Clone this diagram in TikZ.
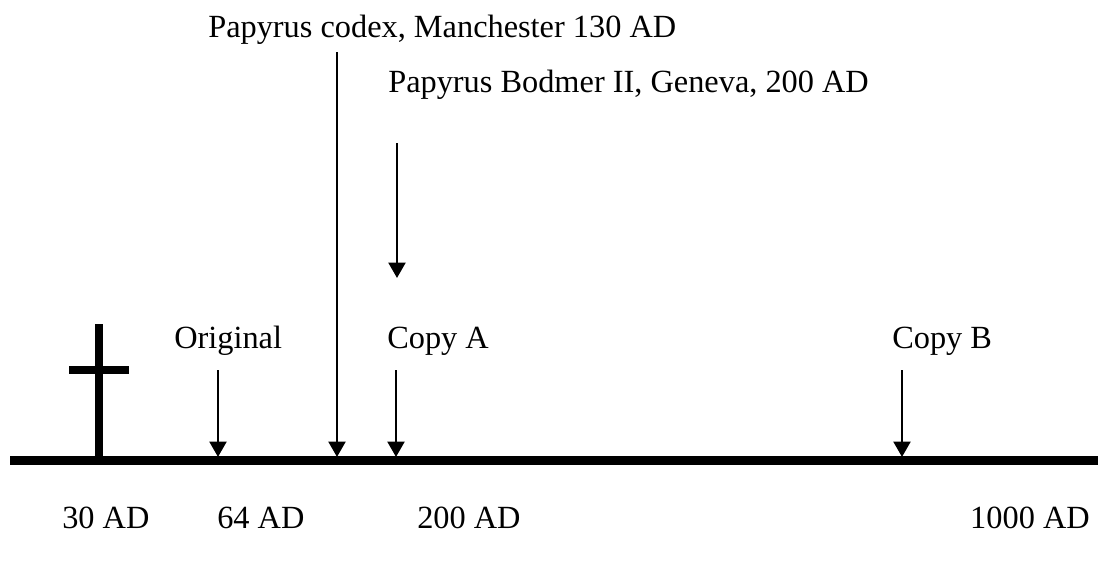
\documentclass[tikz,border=0pt]{standalone}
\usepackage{fontspec}
\setmainfont{Liberation Serif}
\usepackage{tikz}
\usetikzlibrary{arrows.meta,positioning}

\tikzset{
  lbl/.style={anchor=base west,inner sep=0pt,font=\fontsize{23}{27}\selectfont},
  marker/.style={line width=2pt,-{Triangle[length=11pt,width=12pt]}},
}

\begin{document}
\begin{tikzpicture}[x=0.025cm,y=-0.025cm]
\useasboundingbox (0,0) rectangle (1098,561);

% time line
\coordinate (t0) at (10,460.5);
\coordinate (t1) at (1098,460.5);
\draw[line width=6.5pt] (t0)--(t1);

% cross
\coordinate (c0) at (99,324);
\coordinate (c1) at (99,460);
\coordinate (c2) at (69,370);
\coordinate (c3) at (129,370);
\draw[line width=6pt] (c0)--(c1);
\draw[line width=6pt] (c2)--(c3);

% labels
\node[lbl] (manch) at (208,37) {Papyrus codex, Manchester 130 AD};
\node[lbl] (bodmer) at (388,92) {Papyrus Bodmer II, Geneva, 200 AD};
\node[lbl] (orig) at (174,348) {Original};
\node[lbl] (copya) at (387,348) {Copy A};
\node[lbl] (copyb) at (892,348) {Copy B};

\node[lbl] (y30) at (62,528) {30 AD};
\node[lbl] (y64) at (217,528) {64 AD};
\node[lbl] (y200) at (417,528) {200 AD};
\node[lbl,anchor=base east] (y1000) at (1090,528) {1000 AD};

% arrows
\coordinate (a1) at (218,370);
\coordinate (b1) at (218,457);
\coordinate (a2) at (337,52);
\coordinate (b2) at (337,457);
\coordinate (a3) at (396,370);
\coordinate (b3) at (396,457);
\coordinate (a4) at (397,143);
\coordinate (b4) at (397,278);
\coordinate (a5) at (902,370);
\coordinate (b5) at (902,457);

\draw[marker] (a1)--(b1);
\draw[marker] (a2)--(b2);
\draw[marker] (a3)--(b3);
\draw[marker] (a4)--(b4);
\draw[marker] (a5)--(b5);
\end{tikzpicture}
\end{document}
